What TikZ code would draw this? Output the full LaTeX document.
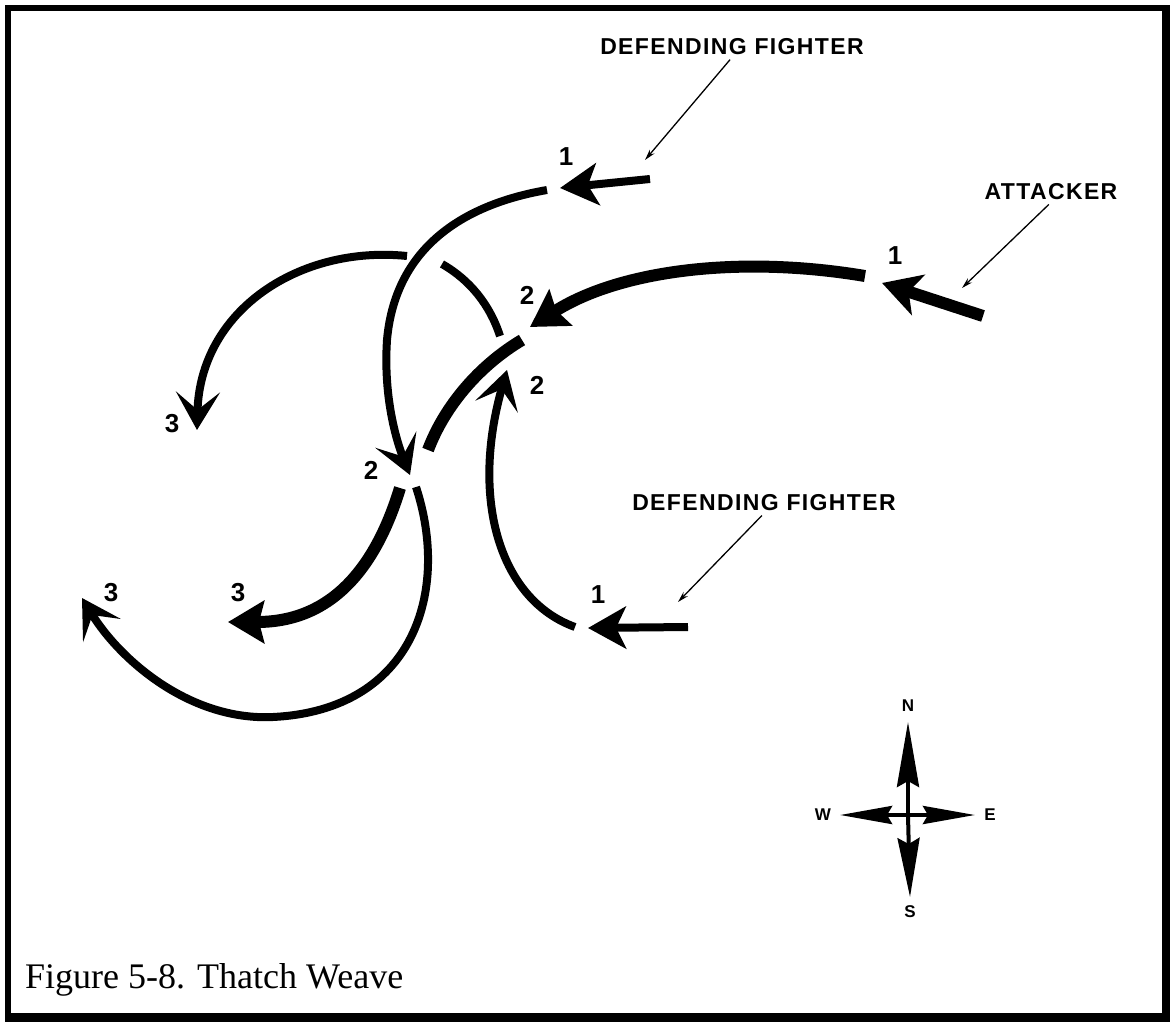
\documentclass[tikz,border=0pt]{standalone}
\usepackage{fontspec}
\setmainfont{Liberation Serif}
\newfontfamily\lblfont{Liberation Sans}[LetterSpace=6]
\newfontfamily\numfont{Liberation Sans}
\usetikzlibrary{arrows.meta}

\begin{document}
\begin{tikzpicture}[x=1pt, y=-1pt,
  every node/.style={inner sep=2pt},
  fighter/.style={line width=8pt, draw=black},
  attacker/.style={line width=12pt, draw=black},
  chevron/.style={-{Stealth[length=38pt,width=44pt,inset=18pt]}},
  dart/.style={-{Stealth[length=36pt,width=42pt,inset=5pt]}},
  entry/.style={-{Stealth[length=38pt,width=42pt,inset=10pt]}},
  leader/.style={line width=1.3pt, -{Stealth[length=11pt,width=6pt]}, shorten <=3pt},
  lbl/.style={font=\lblfont\bfseries\fontsize{23}{23}\selectfont},
  num/.style={font=\numfont\bfseries\fontsize{26}{26}\selectfont},
  dirlbl/.style={font=\numfont\bfseries\fontsize{17}{17}\selectfont},
  compass/.style={line width=4pt},
]
\useasboundingbox (0,0) rectangle (1170,1022);
% frame
\fill[black] (5,5) rectangle (1170,1022);
\fill[white] (11,11) rectangle (1162,1013);

% labels
\node[lbl] (dfTop) at (732,47)  {DEFENDING FIGHTER};
\node[lbl] (atk)   at (1051,192) {ATTACKER};
\node[lbl] (dfLow) at (764,503) {DEFENDING FIGHTER};

% positions
\node[num] (n1a) at (566,157) {1};
\node[num] (n1b) at (895,256) {1};
\node[num] (n1c) at (598,595) {1};
\node[num] (n2a) at (527,295) {2};
\node[num] (n2b) at (537,385) {2};
\node[num] (n2c) at (371,470) {2};
\node[num] (n3a) at (172,424) {3};
\node[num] (n3b) at (238,593) {3};
\node[num] (n3c) at (111,593) {3};

% leaders
\coordinate (tipA) at (645,160);
\coordinate (tipB) at (962,288);
\coordinate (tipC) at (678,602);
\draw[leader] (dfTop.south) -- (tipA);
\draw[leader] (atk.south)   -- (tipB);
\draw[leader] (dfLow.south) -- (tipC);

% top defending fighter
\draw[fighter, entry] (650,179) -- (560,188);
\draw[fighter, chevron] (547,190) .. controls (460,205) and (395,250) .. (387,340)
  .. controls (383,400) and (398,445) .. (410,475);
\draw[fighter, chevron] (416,487) .. controls (450,590) and (415,710) .. (273,717)
  .. controls (190,721) and (120,660) .. (82,598);

% attacker
\draw[attacker, entry] (983,316) -- (882,283);
\draw[attacker, dart] (865,276) .. controls (740,255) and (620,270) .. (530,327);
\draw[attacker] (522,340) .. controls (480,365) and (445,405) .. (428,450);
\draw[attacker, dart] (400,488) .. controls (375,570) and (330,622) .. (228,622);

% lower defending fighter
\draw[fighter, entry] (688,627) -- (588,628);
\draw[fighter, chevron] (575,627) .. controls (500,600) and (470,500) .. (507,370);
\draw[fighter] (500,336) .. controls (490,305) and (470,280) .. (442,264);
\draw[fighter, chevron] (407,256) .. controls (300,245) and (200,310) .. (197,430);

% compass
\coordinate (ctr) at (908,815);
\coordinate (cN) at (908,722);
\coordinate (cS) at (910,897);
\coordinate (cW) at (840,815);
\coordinate (cE) at (975,815);
\draw[compass, -{Stealth[length=65pt,width=22pt,inset=6pt]}] (ctr) -- (cN);
\draw[compass, -{Stealth[length=59pt,width=22pt,inset=6pt]}] (ctr) -- (cS);
\draw[compass, -{Stealth[length=52pt,width=18pt,inset=5pt]}] (ctr) -- (cW);
\draw[compass, -{Stealth[length=52pt,width=18pt,inset=5pt]}] (ctr) -- (cE);
\node[dirlbl] (lN) at (908,706) {N};
\node[dirlbl] (lS) at (910,912) {S};
\node[dirlbl] (lW) at (823,815) {W};
\node[dirlbl] (lE) at (990,815) {E};

% caption
\node[anchor=base west, inner sep=0pt, font=\fontsize{36}{36}\selectfont] (cap) at (25,988) {Figure 5-8. Thatch Weave};
\end{tikzpicture}
\end{document}
